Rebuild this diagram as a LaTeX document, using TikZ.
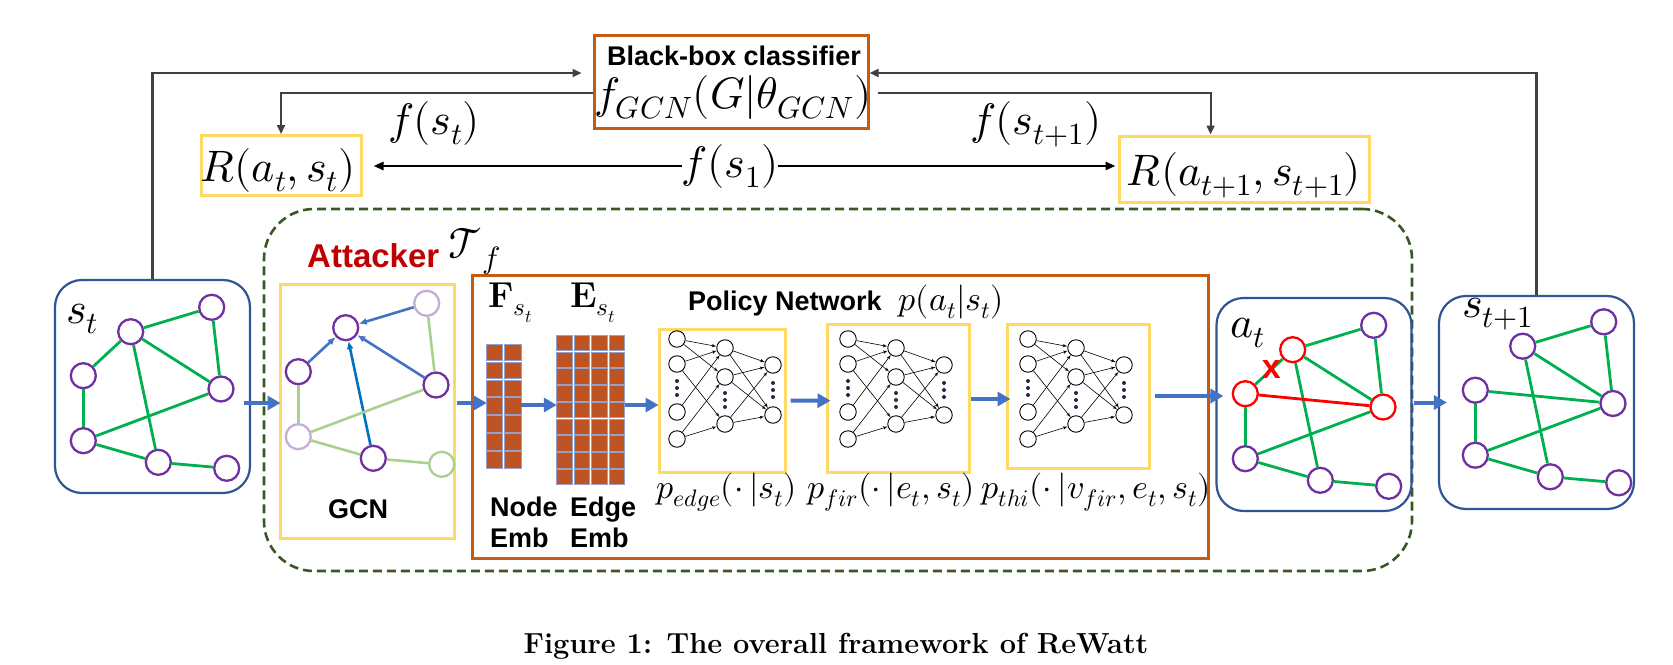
\documentclass[tikz,border=0pt]{standalone}
\usepackage{fontspec}
\usepackage{unicode-math}
\setmathfont{Latin Modern Math}
\newfontfamily\arialf{Liberation Sans}
\usetikzlibrary{arrows,arrows.meta,calc,positioning}
\definecolor{boxblue}{RGB}{47,85,151}
\definecolor{vpurple}{RGB}{112,48,160}
\definecolor{ggreen}{RGB}{0,176,80}
\definecolor{lgreen}{RGB}{169,209,142}
\definecolor{ablue}{RGB}{68,114,196}
\definecolor{dblue}{RGB}{0,112,192}
\definecolor{oorange}{RGB}{197,90,17}
\definecolor{yel}{RGB}{255,217,102}
\definecolor{dgreen}{RGB}{56,87,35}
\definecolor{ared}{RGB}{192,0,0}
\definecolor{cellc}{RGB}{190,84,36}
\definecolor{cellb}{RGB}{150,160,200}
\definecolor{lgray}{RGB}{64,64,64}
\definecolor{dotc}{RGB}{31,42,68}

\newcommand\nnet[2]{%
  \foreach \k/\y in {1/339,2/364,3/412,4/439} \node[neu] (#1a\k) at (#2,\y) {};
  \foreach \k/\y in {1/348,2/377,3/424} \node[neu] (#1b\k) at (#2+48,\y) {};
  \foreach \k/\y in {1/365,2/415} \node[neu] (#1c\k) at (#2+96,\y) {};
  \foreach \i/\j in {1/1,1/2,2/1,2/3,3/1,4/2,4/3} \draw[syn] (#1a\i) -- (#1b\j);
  \foreach \i in {1,2,3} {\foreach \j in {1,2} \draw[syn] (#1b\i) -- (#1c\j);}
  \foreach \x/\y in {0/388,48/400,96/390} {\foreach \d in {-7,0,7} \fill[dotc] (#2+\x,\y+\d) circle (2);}
}

\begin{document}
\begin{tikzpicture}[x=1pt,y=-1pt,>=latex',
    vtx/.style={circle,draw=vpurple,line width=2.3pt,minimum size=25pt,inner sep=0pt},
    vred/.style={vtx,draw=red},
    vfade/.style={vtx,draw=vpurple!40},
    vgfade/.style={vtx,draw=lgreen},
    gedge/.style={draw=ggreen,line width=2.8pt},
    fedge/.style={draw=lgreen,line width=2.6pt},
    garr/.style={-{Latex[length=8pt,width=7pt]},draw=ablue,line width=2.6pt},
    graphbox/.style={draw=boxblue,line width=2.2pt,rounded corners=27pt,minimum width=195pt,minimum height=213pt},
    ybox/.style={draw=yel,line width=3pt,inner sep=0pt},
    flow/.style={-{Triangle[length=13pt,width=14pt]},draw=ablue,line width=4pt},
    ctl/.style={-{Triangle[length=9pt,width=8pt]},draw=lgray,line width=2.2pt},
    thk/.style={-{Triangle[length=10pt,width=8pt]},line width=2.6pt},
    neu/.style={circle,draw,line width=0.9pt,minimum size=16.5pt,inner sep=0pt},
    syn/.style={->,line width=0.6pt},
    cell/.style={fill=cellc,draw=cellb,line width=0.5pt},
    bsf/.style={font=\arialf\bfseries\fontsize{27}{31}\selectfont,inner sep=0pt},
    mth/.style={font=\fontsize{44}{50}\selectfont,inner sep=0pt},
    sml/.style={font=\fontsize{34}{40}\selectfont,inner sep=0pt}]
  \useasboundingbox (0,0) rectangle (1673,664);

  \node[draw=dgreen,line width=2.6pt,dash pattern=on 9pt off 5pt,rounded corners=50pt,
        minimum width=1148pt,minimum height=362pt] (atk) at (838,390) {};
  \node[draw=oorange,line width=3pt,minimum width=274pt,minimum height=93pt] (clf) at (731,81.5) {};
  \node[draw=oorange,line width=3pt,minimum width=736pt,minimum height=283pt] (pol) at (840,416.5) {};
  \node[ybox,minimum width=160pt,minimum height=60pt] (Rt) at (281,165.5) {};
  \node[ybox,minimum width=250pt,minimum height=66pt] (Rn) at (1244,169) {};
  \node[ybox,minimum width=174pt,minimum height=254pt] (gcn) at (367,411) {};
  \node[ybox,minimum width=126pt,minimum height=143pt] (nn1) at (722,400.5) {};
  \node[ybox,minimum width=142pt,minimum height=148pt] (nn2) at (898,398) {};
  \node[ybox,minimum width=142pt,minimum height=144pt] (nn3) at (1078,396) {};
  \node[graphbox] (stbox) at (152.5,386.5) {};
  \node[graphbox] (atbox) at (1314,404.5) {};
  \node[graphbox] (ntbox) at (1536.5,402.5) {};

  \node[bsf,anchor=base] (bbc) at (734,65) {Black-box classifier};
  \node[mth,anchor=base] (fgcn) at (733,108) {$f_{GCN}(G|\theta_{GCN})$};
  \node[mth,anchor=base] (Rtt) at (278,181) {$R(a_t,s_t)$};
  \node[mth,anchor=base] (Rnt) at (1244,185) {$R(a_{t+1},s_{t+1})$};
  \node[mth,anchor=base] (fst) at (434,134) {$f(s_t)$};
  \node[mth,anchor=base] (fs1) at (730,177) {$f(s_1)$};
  \node[mth,anchor=base] (fsn) at (1036,134) {$f(s_{t+1})$};
  \node[bsf,anchor=base west,text=ared,font=\arialf\bfseries\fontsize{33}{38}\selectfont] (atkl) at (307,267) {Attacker};
  \node[mth,anchor=base west] (Tf) at (448,258) {$\mathcal{T}_f$};
  \node[mth,anchor=base west] (stl) at (66,323) {$s_t$};
  \node[mth,anchor=base west] (atl) at (1230,337) {$a_t$};
  \node[mth,anchor=base west] (ntl) at (1462,317) {$s_{t+1}$};
  \node[bsf,anchor=base] (gcnl) at (358,518) {GCN};
  \node[bsf,anchor=base west] (poll) at (688,310) {Policy Network};
  \node[sml,anchor=base west] (pat) at (898,310) {$p(a_t|s_t)$};
  \node[sml,anchor=base] (pe) at (726.5,498) {$p_{edge}(\cdot\,|s_t)$};
  \node[sml,anchor=base] (pf) at (891,498) {$p_{fir}(\cdot\,|e_t,s_t)$};
  \node[sml,anchor=base] (pt) at (1096,498) {$p_{thi}(\cdot\,|v_{fir},e_t,s_t)$};
  \node[font=\fontsize{36}{40}\selectfont,anchor=base west,inner sep=0pt] (Fl) at (488,307) {$\mathbf{F}_{s_t}$};
  \node[font=\fontsize{36}{40}\selectfont,anchor=base west,inner sep=0pt] (El) at (570,307) {$\mathbf{E}_{s_t}$};
  \node[bsf,anchor=north west,align=left] (nel) at (490,497) {Node\\Emb};
  \node[bsf,anchor=north west,align=left] (eel) at (570,497) {Edge\\Emb};
  \node[anchor=base,inner sep=0pt,font=\bfseries\fontsize{29}{33}\selectfont] (cap) at (836,653) {Figure 1: The overall framework of ReWatt};

  % embeddings
  \node[minimum width=35pt,minimum height=124pt,inner sep=0pt] (Fm) at (503.5,406) {};
  \node[minimum width=68pt,minimum height=150pt,inner sep=0pt] (Em) at (591,410) {};
  \foreach \i in {0,1} {\foreach \j in {0,...,6} \draw[cell] (486+\i*18.5,344+\j*17.9) rectangle ++(16.5,16.5);}
  \foreach \i in {0,...,3} {\foreach \j in {0,...,8} \draw[cell] (556.7+\i*17.4,335+\j*16.75) rectangle ++(15.5,15.5);}

  % policy networks
  \nnet{p}{677}
  \nnet{q}{848}
  \nnet{r}{1028}

  % graphs
  \foreach \n/\x/\y in {1/130.7/331.7,2/211.7/307.3,3/83.3/375.7,4/221/389,5/83.3/440.7,6/158.3/462.3,7/226.7/468.3}
    \coordinate (c\n) at (\x,\y);
  \foreach \n in {1,...,7} \node[vtx] (st\n) at (c\n) {};
  \foreach \n/\s in {1/vtx,2/vfade,3/vtx,4/vtx,5/vfade,6/vtx,7/vgfade} \node[\s] (g\n) at ($(c\n)+(215,-4)$) {};
  \foreach \n/\s in {1/vred,2/vtx,3/vred,4/vred,5/vtx,6/vtx,7/vtx} \node[\s] (at\n) at ($(c\n)+(1162,18)$) {};
  \foreach \n in {1,...,7} \node[vtx] (nt\n) at ($(c\n)+(1392,14.5)$) {};

  \foreach \a/\b in {1/2,1/3,1/4,1/6,2/4,4/5,5/6,6/7} \draw[gedge] (st\a) -- (st\b);
  \draw[gedge,line width=3.6pt] (st3) -- (st5);
  \foreach \a in {2,3,4} \draw[garr] (g\a) -- (g1);
  \draw[garr,draw=dblue] (g6) -- (g1);
  \foreach \a/\b in {2/4,3/5,5/4,5/6,6/7} \draw[fedge] (g\a) -- (g\b);
  \foreach \a/\b in {1/2,1/3,1/4,1/6,2/4,4/5,5/6,6/7} \draw[gedge] (at\a) -- (at\b);
  \draw[gedge,line width=3.6pt] (at3) -- (at5);
  \draw[draw=red,line width=2.8pt] (at3) -- (at4);
  \node[bsf,text=red,font=\arialf\bfseries\fontsize{34}{38}\selectfont] (cut) at ($(at1)!0.45!(at3)$) {x};
  \foreach \a/\b in {1/2,1/4,1/6,2/4,3/4,4/5,5/6,6/7} \draw[gedge] (nt\a) -- (nt\b);
  \draw[gedge,line width=3.6pt] (nt3) -- (nt5);

  % flow
  \draw[flow] ([xshift=-7pt,yshift=-16.5pt]stbox.east) -- ([xshift=2pt,yshift=8pt]gcn.west);
  \draw[flow] ([xshift=1pt,yshift=8pt]gcn.east) -- ([xshift=1pt,yshift=3pt]Fm.west);
  \draw[flow] ([yshift=1pt]Fm.east) -- ([yshift=5pt]Em.west);
  \draw[flow] ([yshift=5pt]Em.east) -- ([xshift=1pt,yshift=-4.5pt]nn1.west);
  \draw[flow] ([xshift=4pt]nn1.east) -- ([xshift=5pt,yshift=-2.7pt]nn2.west);
  \draw[flow] ([yshift=-1pt]nn2.east) -- ([xshift=5pt,yshift=-3pt]nn3.west);
  \draw[flow] ([xshift=4pt]nn3.east) -- ([xshift=8pt,yshift=8.5pt]atbox.west);
  \draw[flow] ([xshift=1pt,yshift=2pt]atbox.east) -- ([xshift=9pt]ntbox.west);

  % reward loop
  \draw[ctl] (stbox.north) |- ([xshift=-11pt,yshift=8.5pt]clf.west);
  \draw[ctl] ([yshift=-11.8pt]clf.west) -| (Rt.north);
  \draw[ctl] ([xshift=8pt,yshift=-11.8pt]clf.east) -| ([xshift=-33.4pt]Rn.north);
  \draw[ctl] (ntbox.north) |- ([yshift=8.5pt]clf.east);
  \draw[thk] (fs1.west) -- ([xshift=11pt]fs1.west -| Rt.east);
  \draw[thk] (fs1.east) -- ([xshift=-2pt]fs1.east -| Rn.west);
\end{tikzpicture}
\end{document}
